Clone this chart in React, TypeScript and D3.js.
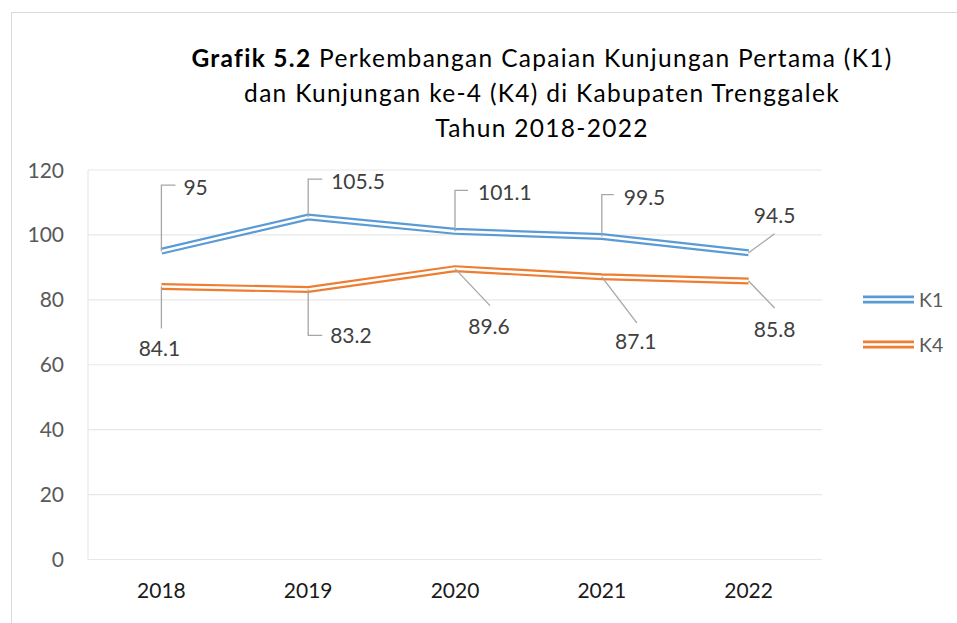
import React from "react";
import * as d3 from "d3";

const categories = ["2018", "2019", "2020", "2021", "2022"];
const k1Values = [95, 105.5, 101.1, 99.5, 94.5];
const k4Values = [84.1, 83.2, 89.6, 87.1, 85.8];
const yTicks = [0, 20, 40, 60, 80, 100, 120];
const seriesNames = ["K1", "K4"];
const seriesColors = ["#5B9BD5", "#ED7D31"];

// label layout: leader end offset (from point) and text offset
const k1Labels = [
  { type: "elbow", ey: -66, ex: 14, tx: 22, ty: -64, anchor: "start" },
  { type: "elbow", ey: -38, ex: 14, tx: 23, ty: -36, anchor: "start" },
  { type: "elbow", ey: -41, ex: 13, tx: 23, ty: -39, anchor: "start" },
  { type: "elbow", ey: -42, ex: 12, tx: 22, ty: -39, anchor: "start" },
  { type: "diag", ey: -19, ex: 26, tx: 26, ty: -37, anchor: "middle" },
];
const k4Labels = [
  { type: "vert", ey: 42, ex: 0, tx: -2, ty: 62, anchor: "middle" },
  { type: "elbow", ey: 46, ex: 14, tx: 22, ty: 46, anchor: "start" },
  { type: "diag", ey: 37, ex: 35, tx: 34, ty: 58, anchor: "middle" },
  { type: "diag", ey: 46, ex: 35, tx: 34, ty: 65, anchor: "middle" },
  { type: "diag", ey: 27, ex: 26, tx: 26, ty: 48, anchor: "middle" },
];

const W = 957;
const H = 623;
const plot = { left: 88, right: 822, top: 170, bottom: 559.5 };
const FONT = "Lato, 'Open Sans', sans-serif";
const TITLE_SIZE = 24.5;
const TITLE_LS = 1.3;

export default function App() {
  const x = d3.scaleBand().domain(categories).range([plot.left, plot.right]);
  const y = d3.scaleLinear().domain([0, 120]).range([plot.bottom, plot.top]);
  const cx = (c: string) => (x(c) as number) + x.bandwidth() / 2;
  const line = d3
    .line<number>()
    .x((_, i) => cx(categories[i]))
    .y((v) => y(v));

  const series = [
    { name: seriesNames[0], values: k1Values, color: seriesColors[0], labels: k1Labels },
    { name: seriesNames[1], values: k4Values, color: seriesColors[1], labels: k4Labels },
  ];

  return (
    <svg
      width={W}
      height={H}
      style={{ position: "absolute", left: 0, top: 0, background: "#fff" }}
      fontFamily={FONT}
    >
      <rect x={0} y={0} width={W} height={H} fill="#fff" />
      <rect x={11.5} y={12.5} width={W + 10} height={H + 10} fill="none" stroke="#d9d9d9" strokeWidth={1} />

      {/* title */}
      <g fontSize={TITLE_SIZE} fill="#000" letterSpacing={TITLE_LS} textAnchor="middle">
        <text x={542} y={67}>
          <tspan fontWeight="bold">Grafik 5.2</tspan>
          <tspan> Perkembangan Capaian Kunjungan Pertama (K1)</tspan>
        </text>
        <text x={542} y={102}>dan Kunjungan ke-4 (K4) di Kabupaten Trenggalek</text>
        <text x={542} y={137}>Tahun 2018-2022</text>
      </g>

      {/* gridlines */}
      {yTicks.map((t) => (
        <g key={t}>
          <line x1={plot.left} x2={plot.right} y1={y(t)} y2={y(t)} stroke="#e8e8e8" strokeWidth={1.2} />
          <text x={64} y={y(t) + 7.5} textAnchor="end" fontSize={21} fill="#595959">
            {t}
          </text>
        </g>
      ))}
      <line x1={plot.left} x2={plot.left} y1={plot.top} y2={plot.bottom} stroke="#e8e8e8" strokeWidth={1.2} />

      {categories.map((c) => (
        <text key={c} x={cx(c)} y={598} textAnchor="middle" fontSize={21} fill="#1a1a1a">
          {c}
        </text>
      ))}

      {/* series */}
      {series.map((s) => (
        <g key={s.name}>
          <path d={line(s.values) || ""} fill="none" stroke={s.color} strokeWidth={7} />
          <path d={line(s.values) || ""} fill="none" stroke="#fff" strokeWidth={2.6} />
        </g>
      ))}

      {/* data labels */}
      {series.map((s) =>
        s.values.map((v, i) => {
          const px = cx(categories[i]);
          const py = y(v);
          const L = s.labels[i];
          let d = "";
          if (L.type === "elbow") d = `M${px},${py}V${py + L.ey}H${px + L.ex}`;
          else if (L.type === "vert") d = `M${px},${py}V${py + L.ey}`;
          else d = `M${px},${py}L${px + L.ex},${py + L.ey}`;
          return (
            <g key={s.name + i}>
              <path d={d} fill="none" stroke="#a6a6a6" strokeWidth={1.3} />
              <text
                x={px + L.tx}
                y={py + L.ty + 7.5}
                textAnchor={L.anchor as any}
                fontSize={21}
                fill="#404040"
              >
                {v}
              </text>
            </g>
          );
        })
      )}

      {/* legend */}
      {series.map((s, i) => {
        const ly = 299.5 + i * 45;
        return (
          <g key={"lg" + s.name}>
            <line x1={863} x2={914} y1={ly} y2={ly} stroke={s.color} strokeWidth={8} />
            <line x1={862} x2={915} y1={ly} y2={ly} stroke="#fff" strokeWidth={2.6} />
            <text x={919} y={ly + 7} fontSize={19.5} fill="#595959">
              {s.name}
            </text>
          </g>
        );
      })}
    </svg>
  );
}
